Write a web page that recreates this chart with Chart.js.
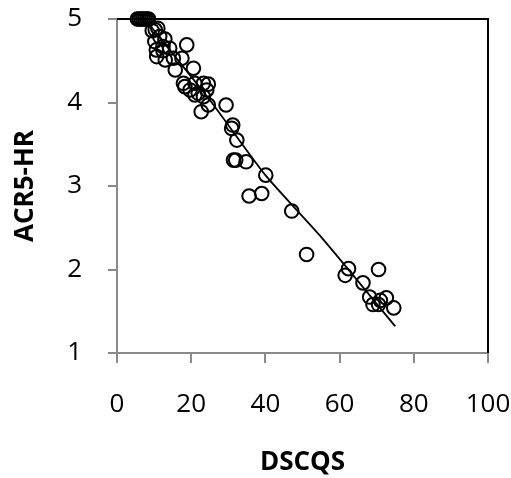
<!DOCTYPE html>
<html>
<head>
<meta charset="utf-8">
<script src="https://cdn.jsdelivr.net/npm/chart.js@4.4.1/dist/chart.umd.min.js"></script>
<style>
  html, body { margin: 0; padding: 0; background: #fff; }
  #wrap { width: 511px; height: 478px; position: relative; }
</style>
</head>
<body>
<div id="wrap"><canvas id="c" width="511" height="478"></canvas></div>
<script>
// Observed scatter points (DSCQS vs ACR5-HR)
const dscqs = [5.5, 6, 6.5, 7, 7.5, 8, 8.5,
  9.5, 10.3, 11, 11.5, 10.2, 12.9, 10.6, 12.4, 14.2,
  12.4, 10.7, 13, 15.2, 17.5, 18.8, 15.7, 20.6, 18.3, 17.9,
  21, 23.3, 24.6, 21.9, 24.2, 19.7, 21, 23.3, 22.7, 24.6,
  29.4, 30.9, 31.2, 32.3, 31.4, 32, 34.8, 40.1, 35.6, 39.0,
  47.1, 51.1, 62.4, 61.5, 70.5, 66.3, 68.1, 69.0, 70.5, 71, 72.6, 74.6];
const acr5hr = [5, 5, 5, 5, 5, 5, 5,
  4.86, 4.87, 4.89, 4.79, 4.73, 4.76, 4.63, 4.62, 4.65,
  4.67, 4.55, 4.51, 4.53, 4.53, 4.69, 4.39, 4.41, 4.19, 4.23,
  4.23, 4.23, 4.22, 4.11, 4.15, 4.15, 4.09, 4.07, 3.89, 3.97,
  3.97, 3.69, 3.73, 3.55, 3.31, 3.31, 3.29, 3.13, 2.88, 2.91,
  2.70, 2.18, 2.01, 1.93, 2.00, 1.84, 1.67, 1.58, 1.58, 1.63, 1.66, 1.54];
// Fitted curve
const fitX = [7.5, 25, 40, 55, 75];
const fitY = [5, 4.03, 3.13, 2.39, 1.32];
// Axis ticks
const xTicks = [0, 20, 40, 60, 80, 100];
const yTicks = [1, 2, 3, 4, 5];

const pts = dscqs.map((x, i) => ({x: x, y: acr5hr[i]}));
const fit = fitX.map((x, i) => ({x: x, y: fitY[i]}));

const AXIS = '#898989';
const FONT = "'Open Sans', 'Liberation Sans', sans-serif";

const frame = {
  id: 'frame',
  afterDatasetsDraw(chart) {
    const {ctx, chartArea: a} = chart;
    ctx.save();
    ctx.strokeStyle = '#000';
    ctx.lineWidth = 2;
    ctx.beginPath();
    ctx.moveTo(a.left, a.top);
    ctx.lineTo(a.right, a.top);
    ctx.lineTo(a.right, a.bottom);
    ctx.stroke();
    ctx.restore();
  }
};

new Chart(document.getElementById('c'), {
  type: 'scatter',
  data: {
    datasets: [
      {
        data: pts,
        pointStyle: 'circle',
        pointRadius: 6.8,
        pointBorderWidth: 2,
        borderColor: '#000',
        backgroundColor: 'rgba(0,0,0,0)',
        clip: false
      },
      {
        data: fit,
        showLine: true,
        pointRadius: 0,
        borderColor: '#000',
        borderWidth: 1.8,
        tension: 0.2,
        fill: false
      }
    ]
  },
  plugins: [frame],
  options: {
    responsive: false,
    animation: false,
    layout: { padding: { top: 19, right: 23, left: 0, bottom: 0 } },
    plugins: { legend: { display: false }, tooltip: { enabled: false } },
    scales: {
      x: {
        type: 'linear', min: 0, max: 100,
        afterBuildTicks: s => { s.ticks = xTicks.map(v => ({value: v})); },
        afterFit: s => { s.height = 125; s.paddingLeft = 0; s.paddingRight = 0; },
        ticks: { color: '#000', font: { family: FONT, size: 26 }, padding: 26, maxRotation: 0 },
        grid: { drawOnChartArea: false, tickLength: 10, color: AXIS, lineWidth: 2 },
        border: { color: AXIS, width: 2 },
        title: { display: true, text: 'DSCQS', color: '#000', font: { family: FONT, size: 26, weight: 'bold' }, padding: { top: 0, bottom: 0 } }
      },
      y: {
        type: 'linear', min: 1, max: 5,
        afterBuildTicks: s => { s.ticks = yTicks.map(v => ({value: v})); },
        afterFit: s => { s.width = 117; s.paddingTop = 0; s.paddingBottom = 0; },
        ticks: { color: '#000', font: { family: FONT, size: 26 }, padding: 26 },
        grid: { drawOnChartArea: false, tickLength: 9, color: AXIS, lineWidth: 2 },
        border: { color: AXIS, width: 2 },
        title: { display: true, text: 'ACR5-HR', color: '#000', font: { family: FONT, size: 26, weight: 'bold' }, padding: { top: 10, bottom: 0 } }
      }
    }
  }
});
</script>
</body>
</html>
